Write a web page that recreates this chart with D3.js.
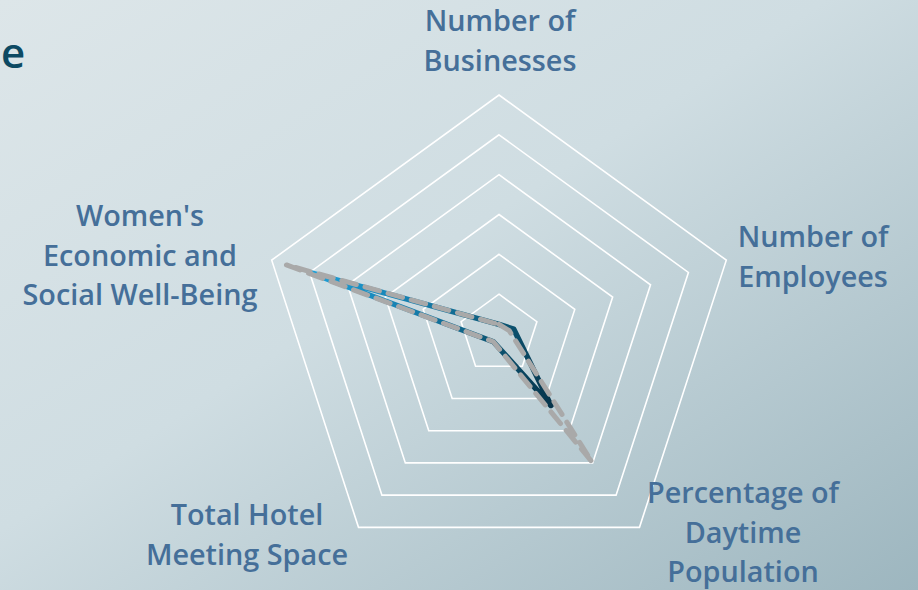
<!DOCTYPE html>
<html><head><meta charset="utf-8">
<script src="https://cdn.jsdelivr.net/npm/d3@7"></script>
<style>html,body{margin:0;padding:0;overflow:hidden;}svg{display:block;}</style>
</head><body>
<svg id="chart" width="918" height="590"></svg>
<script>
const axes = [
  ["Number of", "Businesses"],
  ["Number of", "Employees"],
  ["Percentage of", "Daytime", "Population"],
  ["Total Hotel", "Meeting Space"],
  ["Women's", "Economic and", "Social Well-Being"]
];
const seriesPrimary = [0.04, 0.065, 0.37, 0.04, 0.83];
const seriesCompare = [0.04, 0.045, 0.66, 0.04, 0.935];
const gridLevels = [1, 2, 3, 4, 5, 6];
const titleText = "e";

const W = 918, H = 590;
const cx = 499, cy = 334, R = 239;
const svg = d3.select("#chart");
const defs = svg.append("defs");

const bg = defs.append("linearGradient").attr("id", "bg")
  .attr("x1", "0%").attr("y1", "0%").attr("x2", "100%").attr("y2", "100%");
bg.append("stop").attr("offset", "0%").attr("stop-color", "#dde6e9");
bg.append("stop").attr("offset", "45%").attr("stop-color", "#cfdde2");
bg.append("stop").attr("offset", "100%").attr("stop-color", "#9db6bf");
svg.append("rect").attr("width", W).attr("height", H).attr("fill", "url(#bg)");

// gradient coordinates are in the translated group's space
const lg = defs.append("linearGradient").attr("id", "lineGrad")
  .attr("gradientUnits", "userSpaceOnUse")
  .attr("x1", -195).attr("y1", -62).attr("x2", 55).attr("y2", 70);
lg.append("stop").attr("offset", "0%").attr("stop-color", "#1fa3dc");
lg.append("stop").attr("offset", "40%").attr("stop-color", "#167ead");
lg.append("stop").attr("offset", "70%").attr("stop-color", "#0c5674");
lg.append("stop").attr("offset", "100%").attr("stop-color", "#06334a");

const angle = d3.scaleLinear().domain([0, axes.length]).range([0, 2 * Math.PI]);
const r = d3.scaleLinear().domain([0, 1]).range([0, R]);
const level = d3.scaleLinear().domain([0, 6]).range([0, R]);

const g = svg.append("g").attr("transform", `translate(${cx},${cy})`);

const ringLine = d3.lineRadial().angle((d, i) => angle(i)).radius(d => d).curve(d3.curveLinearClosed);
g.selectAll(".ring").data(gridLevels).join("path")
  .attr("d", lv => ringLine(axes.map(() => level(lv))))
  .attr("fill", "none").attr("stroke", "#ffffff").attr("stroke-width", 1.6);

const dataLine = d3.lineRadial().angle((d, i) => angle(i)).radius(d => r(d)).curve(d3.curveLinearClosed);
g.append("path").attr("d", dataLine(seriesPrimary))
  .attr("fill", "none").attr("stroke", "url(#lineGrad)").attr("stroke-width", 5.5)
  .attr("stroke-linejoin", "round").attr("stroke-linecap", "round");
g.append("path").attr("d", dataLine(seriesCompare))
  .attr("fill", "none").attr("stroke", "#a9a9a9").attr("stroke-width", 5)
  .attr("stroke-dasharray", "15 9").attr("stroke-linecap", "round").attr("stroke-linejoin", "round");

const labelPos = [
  {x: 500, y: 31},
  {x: 813, y: 247},
  {x: 743, y: 503},
  {x: 247, y: 525},
  {x: 140, y: 226}
];
const FONT = "'Open Sans', 'Noto Sans', sans-serif";
// fit font size so the widest reference label matches its width in the picture
const probe = svg.append("text").attr("font-family", FONT).attr("font-weight", 600)
  .attr("font-size", 26).text("Social Well-Being");
const pw = probe.node().getComputedTextLength();
probe.remove();
const fs = Math.max(20, Math.min(30, 26 * 235 / pw));

const lblG = svg.append("g");
axes.forEach((lines, i) => {
  const t = lblG.append("text")
    .attr("x", labelPos[i].x).attr("y", labelPos[i].y)
    .attr("text-anchor", "middle")
    .attr("font-family", FONT)
    .attr("font-weight", 600).attr("font-size", fs)
    .attr("fill", "#456f99");
  lines.forEach((ln, j) => {
    t.append("tspan").attr("x", labelPos[i].x).attr("y", labelPos[i].y + j * 39.5).text(ln);
  });
});

svg.append("text").attr("x", 1).attr("y", 68).attr("text-anchor", "start")
  .attr("font-family", FONT).attr("font-weight", 600)
  .attr("font-size", 42).attr("fill", "#0d4a63").text(titleText);
</script>
</body></html>
